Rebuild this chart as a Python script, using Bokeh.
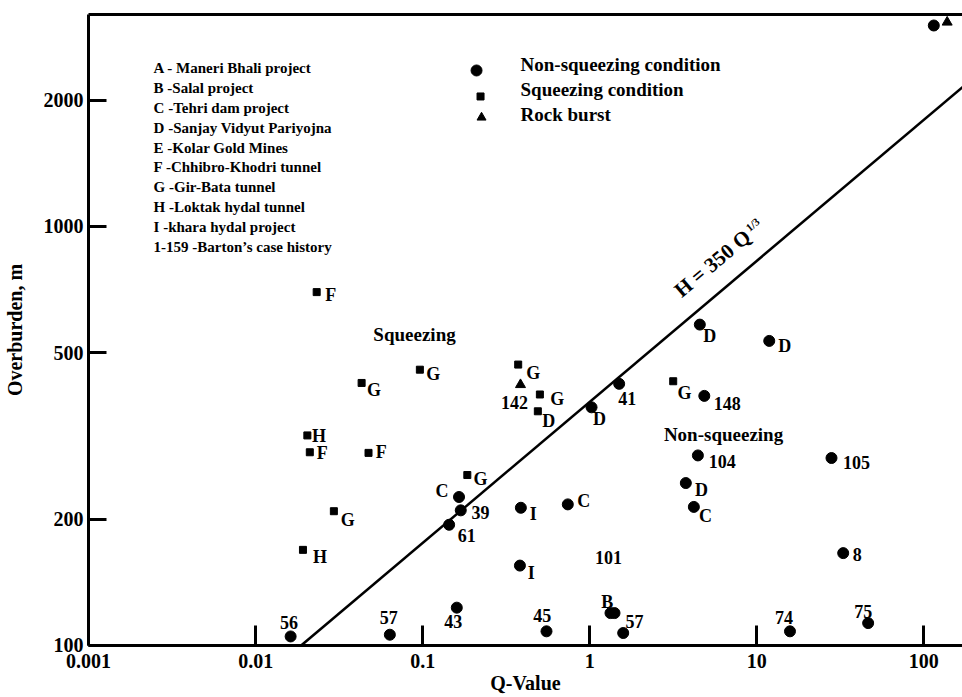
import math
from bokeh.plotting import figure
from bokeh.models import (LogAxis, FixedTicker, Label, ColumnDataSource, Range1d,
                          NumeralTickFormatter)
from bokeh.core.properties import value
from bokeh.embed import file_html
from bokeh.resources import INLINE

# ---------------- data ----------------
x_ticks = [0.001, 0.01, 0.1, 1, 10, 100]
y_ticks = [100, 200, 500, 1000, 2000]

# Non-squeezing condition (circles)
ns_q = [114.7, 4.56, 11.87, 1.50, 1.025, 4.85, 4.44, 28.0, 3.76, 4.20,
        0.165, 0.169, 0.144, 0.387, 0.739, 0.382, 0.160, 0.551, 1.331, 1.407,
        1.586, 0.0162, 0.0636, 32.9, 15.8, 46.4]
ns_h = [3018, 583, 533, 421, 370, 394, 284, 280, 244, 214,
        226, 210, 194, 213, 217, 155, 123, 108, 119.4, 119.4,
        107, 105, 106, 166, 108, 113]
ns_lbl = ["", "D", "D", "41", "D", "148", "104", "105", "D", "C",
          "C", "39", "61", "I", "C", "I", "43", "45", "B", "",
          "57", "56", "57", "8", "74", "75"]

# Squeezing condition (squares)
sq_q = [0.0232, 0.0962, 0.0431, 0.0204, 0.0211, 0.0474, 0.185, 0.0294, 0.0192,
        0.373, 0.503, 0.489, 3.16]
sq_h = [697, 455, 423, 317, 289, 288, 255, 209, 169, 468, 397, 362, 427]
sq_lbl = ["F", "G", "G", "H", "F", "F", "G", "G", "H", "G", "G", "D", "G"]

# Rock burst (triangles)
rb_q = [0.385, 137.9]
rb_h = [419, 3073]
rb_lbl = ["142", ""]

# Boundary line H = 350 Q^(1/3) as drawn (end points)
line_q = [0.0188, 175]
line_h = [100, 2170]

projects = ["A - Maneri Bhali project", "B -Salal project", "C -Tehri dam project",
            "D -Sanjay Vidyut Pariyojna", "E -Kolar Gold Mines",
            "F -Chhibro-Khodri tunnel", "G -Gir-Bata tunnel",
            "H -Loktak hydal tunnel", "I -khara hydal project",
            "1-159 -Barton\u2019s case history"]
legend_names = ["Non-squeezing condition", "Squeezing condition", "Rock burst"]

# ---------------- layout (label offsets in screen px) ----------------
ns_dx = [0, 10, 15.6, 8, 8, 23, 24.4, 25, 15.7, 11.7,
         -17, 19.7, 17.6, 12.4, 16, 11.4, -3.6, -4.3, -3.3, 0,
         11.3, -1.7, -1, 14, -6, -5]
ns_dy = [0, 11.7, 4.7, 15, 11.6, 7.6, 5.7, 4.4, 7.3, 9.3,
         -5.7, 1.7, 10.7, 6, -3, 7.6, 14, -16.3, -11.4, 0,
         -11.3, -14, -17, 1.3, -13.4, -11.6]
sq_dx = [14, 13.4, 12.3, 11.6, 12.4, 12.7, 13.3, 14, 17, 15, 17.4, 11, 11.3]
sq_dy = [3.3, 4, 6.6, 0.7, 0.7, -0.4, 4.3, 8.3, 6.7, 8.4, 4.3, 9.3, 11.7]
rb_dx = [-6, 0]
rb_dy = [17.4, 0]

FONT = "Liberation Serif"
W, H = 962, 697
FL, FR, FT, FB = 88, 962, 14, 645
DEC_X = 167.07
DEC_Y = 419.0


def qx(px):
    return 10 ** (-3 + (px - FL) / DEC_X)


def hy(py):
    return 10 ** (2 + (FB - py) / DEC_Y)


p = figure(width=W, height=H, x_axis_type="log", y_axis_type="log",
           x_range=Range1d(0.000999, qx(FR)), y_range=Range1d(99.9, hy(FT)),
           output_backend="svg", toolbar_location=None,
           min_border_left=FL, min_border_right=W - FR,
           min_border_top=FT, min_border_bottom=H - FB)
p.outline_line_color = None
p.grid.visible = False
p.background_fill_color = "white"
p.border_fill_color = "white"

xa = p.xaxis[0]
xa.ticker = FixedTicker(ticks=x_ticks, minor_ticks=[])
xa.formatter = NumeralTickFormatter(format="0.[000]")
ya = p.yaxis[0]
ya.ticker = FixedTicker(ticks=y_ticks, minor_ticks=[])
ya.formatter = NumeralTickFormatter(format="0")
for ax, tin in ((xa, 20), (ya, 18)):
    ax.major_tick_in = tin
    ax.major_tick_out = 0
    ax.major_tick_line_width = 3
    ax.minor_tick_line_color = None
    ax.axis_line_width = 3
    ax.major_label_text_font = FONT
    ax.major_label_text_font_style = "bold"
    ax.major_label_text_font_size = "20px"
    ax.major_label_text_color = "black"
    ax.axis_label_text_font = FONT
    ax.axis_label_text_font_style = "bold"
    ax.axis_label_text_font_size = "20px"
    ax.axis_label_text_color = "black"
xa.axis_label = "Q-Value"
xa.major_label_standoff = 8
xa.axis_label_standoff = 1
ya.axis_label = "Overburden, m"
ya.major_label_standoff = 5
ya.axis_label_standoff = 15

ta = LogAxis(ticker=FixedTicker(ticks=[], minor_ticks=[]), axis_line_width=3,
             major_tick_in=0, major_tick_out=0, minor_tick_line_color=None,
             major_label_text_font_size="0px")
p.add_layout(ta, "above")

# boundary line
p.line(line_q, line_h, line_width=2.5, color="black")

# points
src_ns = ColumnDataSource(dict(q=ns_q, h=ns_h, lbl=ns_lbl, dx=ns_dx, dy=ns_dy))
src_sq = ColumnDataSource(dict(q=sq_q, h=sq_h, lbl=sq_lbl, dx=sq_dx, dy=sq_dy))
src_rb = ColumnDataSource(dict(q=rb_q, h=rb_h, lbl=rb_lbl, dx=rb_dx, dy=rb_dy))

p.scatter("q", "h", source=src_ns, marker="circle", size=11, color="black")
p.scatter("q", "h", source=src_sq, marker="square", size=7, color="black")
p.scatter("q", "h", source=src_rb, marker="triangle", size=10, color="black")

for src in (src_ns, src_sq, src_rb):
    p.text("q", "h", text="lbl", source=src, x_offset="dx", y_offset="dy",
           text_font=value(FONT), text_font_style="bold", text_font_size="18px",
           text_align="center", text_baseline="middle", text_color="black")


def add_label(px, py, text, size, align="left", angle=0.0):
    p.add_layout(Label(x=qx(px), y=hy(py), text=text, text_font=FONT,
                       text_font_style="bold", text_font_size=size,
                       text_align=align, text_baseline="middle",
                       text_color="black", angle=angle, angle_units="deg"))


# project key list
for i, t in enumerate(projects):
    add_label(153, 68 + i * 19.8, t, "15px")

# marker legend
p.scatter([qx(476)], [hy(70)], marker="circle", size=11, color="black")
p.scatter([qx(480)], [hy(96)], marker="square", size=7, color="black")
p.scatter([qx(481)], [hy(117)], marker="triangle", size=9, color="black")
for t, yy in zip(legend_names, [64, 89, 114]):
    add_label(520, yy, t, "19px")

# region and free annotations
add_label(414, 334, "Squeezing", "19px", "center")
add_label(723, 434, "Non-squeezing", "19px", "center")
add_label(608, 557, "101", "18px", "center")
add_label(712, 263, "H = 350 Q", "21px", "center", 40)
add_label(752, 224, "1/3", "11px", "center", 40)

open("out.html", "w").write(file_html(p, INLINE))
